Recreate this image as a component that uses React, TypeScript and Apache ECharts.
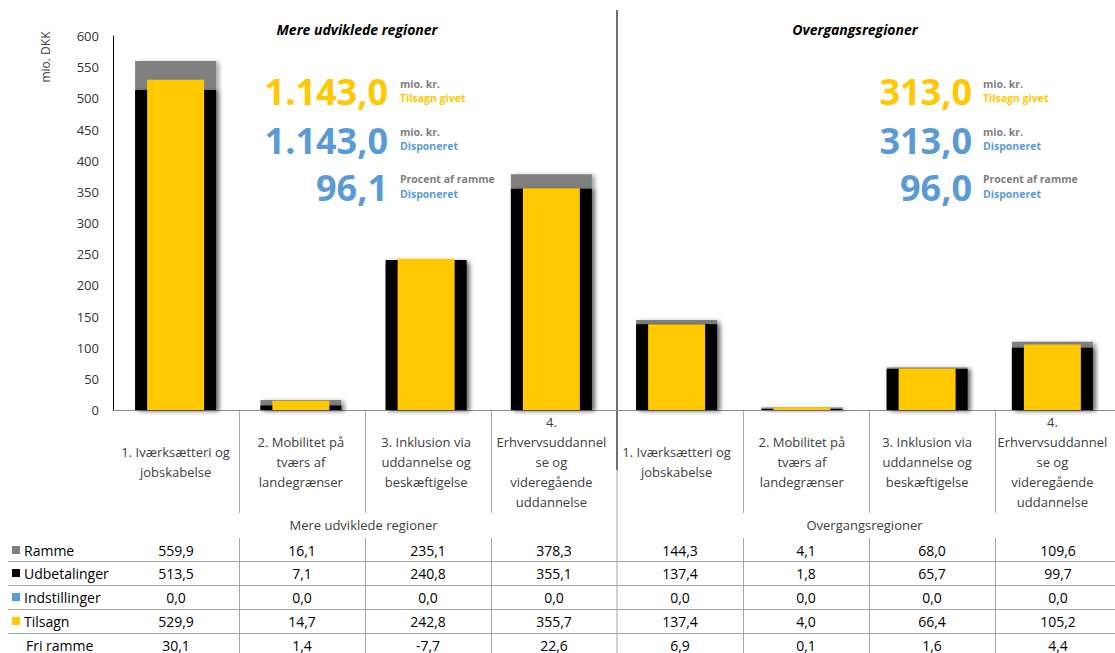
import React, { useEffect, useRef } from "react";
import * as echarts from "echarts";

const categories = [
  "1. Iværksætteri og\njobskabelse",
  "2. Mobilitet på\ntværs af\nlandegrænser",
  "3. Inklusion via\nuddannelse og\nbeskæftigelse",
  "4.\nErhvervsuddannel\nse og\nvideregående\nuddannelse",
  "1. Iværksætteri og\njobskabelse",
  "2. Mobilitet på\ntværs af\nlandegrænser",
  "3. Inklusion via\nuddannelse og\nbeskæftigelse",
  "4.\nErhvervsuddannel\nse og\nvideregående\nuddannelse",
];
const groups = ["Mere udviklede regioner", "Overgangsregioner"];
const ramme = [559.9, 16.1, 235.1, 378.3, 144.3, 4.1, 68.0, 109.6];
const udbetalinger = [513.5, 7.1, 240.8, 355.1, 137.4, 1.8, 65.7, 99.7];
const indstillinger = [0.0, 0.0, 0.0, 0.0, 0.0, 0.0, 0.0, 0.0];
const tilsagn = [529.9, 14.7, 242.8, 355.7, 137.4, 4.0, 66.4, 105.2];
const friRamme = [30.1, 1.4, -7.7, 22.6, 6.9, 0.1, 1.6, 4.4];
const yMin = 0;
const yMax = 600;
const yInterval = 50;
const kpiTilsagn = ["1.143,0", "313,0"];
const kpiDisponeret = ["1.143,0", "313,0"];
const kpiProcent = ["96,1", "96,0"];

const FONT = "'Open Sans', 'Noto Sans', sans-serif";
const GRAY = "#808080";
const BLACK = "#000000";
const BLUE = "#5B9BD5";
const YELLOW = "#FFC800";
const TEXT = "#404040";
const LINE = "#a6a6a6";

const GRID_LEFT = 113;
const GRID_TOP = 36;
const GRID_W = 1008;
const GRID_H = 374;
const CAT_W = GRID_W / categories.length;

const fmt = (v: number) => v.toFixed(1).replace(".", ",");

export default function App() {
  const ref = useRef<HTMLDivElement>(null);
  useEffect(() => {
    document.body.style.margin = "0";
    const chart = echarts.init(ref.current!, null, { renderer: "svg" });

    const rows = [
      { name: "Ramme", color: GRAY, values: ramme },
      { name: "Udbetalinger", color: BLACK, values: udbetalinger },
      { name: "Indstillinger", color: BLUE, values: indstillinger },
      { name: "Tilsagn", color: YELLOW, values: tilsagn },
      { name: "Fri ramme", color: null as string | null, values: friRamme },
    ];
    const rowY = [550, 573, 597, 621, 645];
    const hLines = [561, 585, 609, 633];
    const axisBottom = GRID_TOP + GRID_H;
    const sepX = GRID_LEFT + CAT_W * 4;

    const graphic: any[] = [];
    // y axis name
    graphic.push({
      type: "text",
      x: 45,
      y: 57,
      rotation: Math.PI / 2,
      style: { text: "mio. DKK", font: `12px ${FONT}`, fill: TEXT, align: "center", verticalAlign: "middle" },
    });
    // titles
    const titleX = [357, 855];
    groups.forEach((g, i) => {
      graphic.push({
        type: "text",
        x: titleX[i],
        y: 29,
        style: { text: g, font: `italic bold 14px ${FONT}`, fill: "#000", align: "center", verticalAlign: "middle" },
      });
    });
    // KPIs
    const numRight = [388, 972];
    const lblLeft = [400, 983];
    const kpiRows = [
      { vals: kpiTilsagn, color: YELLOW, y: 91, l1: "mio. kr.", l2: "Tilsagn givet", c2: YELLOW, ly: [84, 98] },
      { vals: kpiDisponeret, color: BLUE, y: 140, l1: "mio. kr.", l2: "Disponeret", c2: BLUE, ly: [132, 146] },
      { vals: kpiProcent, color: BLUE, y: 187, l1: "Procent af ramme", l2: "Disponeret", c2: BLUE, ly: [179, 194] },
    ];
    for (let r = 0; r < 2; r++) {
      kpiRows.forEach((k) => {
        graphic.push({
          type: "text",
          x: numRight[r],
          y: k.y,
          style: { text: k.vals[r], font: `bold 36px ${FONT}`, fill: k.color, align: "right", verticalAlign: "middle" },
        });
        graphic.push({
          type: "text",
          x: lblLeft[r],
          y: k.ly[0],
          style: { text: k.l1, font: `bold 10.5px ${FONT}`, fill: "#7f7f7f", align: "left", verticalAlign: "middle" },
        });
        graphic.push({
          type: "text",
          x: lblLeft[r],
          y: k.ly[1],
          style: { text: k.l2, font: `bold 10.5px ${FONT}`, fill: k.c2, align: "left", verticalAlign: "middle" },
        });
      });
    }
    // region separator
    graphic.push({
      type: "line",
      shape: { x1: sepX, y1: 10, x2: sepX, y2: 470 },
      style: { stroke: "#404040", lineWidth: 1.5 },
    });
    graphic.push({
      type: "line",
      shape: { x1: sepX, y1: 470, x2: sepX, y2: 653 },
      style: { stroke: LINE, lineWidth: 1 },
    });
    // category boundary lines and table vertical lines
    for (let i = 1; i < categories.length; i++) {
      if (i === 4) continue;
      const x = Math.round(GRID_LEFT + CAT_W * i) + 0.5;
      graphic.push({ type: "line", shape: { x1: x, y1: axisBottom, x2: x, y2: 513 }, style: { stroke: LINE, lineWidth: 1 } });
      graphic.push({ type: "line", shape: { x1: x, y1: 538, x2: x, y2: 653 }, style: { stroke: LINE, lineWidth: 1 } });
    }
    // table horizontal lines
    hLines.forEach((y) => {
      graphic.push({ type: "line", shape: { x1: 8, y1: y + 0.5, x2: 1115, y2: y + 0.5 }, style: { stroke: LINE, lineWidth: 1 } });
    });
    // table rows
    rows.forEach((row, ri) => {
      const y = rowY[ri];
      if (row.color) {
        graphic.push({ type: "rect", shape: { x: 12, y: y - 4, width: 8, height: 8 }, style: { fill: row.color } });
      }
      graphic.push({
        type: "text",
        x: row.color ? 24 : 26,
        y,
        style: { text: row.name, font: `14px ${FONT}`, fill: "#000", align: "left", verticalAlign: "middle" },
      });
      row.values.forEach((v, ci) => {
        graphic.push({
          type: "text",
          x: GRID_LEFT + CAT_W * (ci + 0.5),
          y,
          style: { text: fmt(v), font: `14px ${FONT}`, fill: "#000", align: "center", verticalAlign: "middle" },
        });
      });
    });

    const shadow = { shadowBlur: 4, shadowColor: "rgba(0,0,0,0.35)", shadowOffsetX: 3, shadowOffsetY: 1 };

    chart.setOption({
      animation: false,
      grid: { left: GRID_LEFT, top: GRID_TOP, width: GRID_W, height: GRID_H, containLabel: false },
      xAxis: [
        {
          type: "category",
          data: categories,
          position: "bottom",
          axisLine: { lineStyle: { color: "#8c8c8c", width: 1 } },
          axisTick: { show: false },
          axisLabel: {
            interval: 0,
            margin: 52,
            verticalAlign: "middle",
            lineHeight: 20,
            fontSize: 13,
            fontFamily: FONT,
            color: TEXT,
          },
        },
        { type: "category", data: categories, show: false },
        {
          type: "category",
          data: groups,
          position: "bottom",
          axisLine: { show: false },
          axisTick: { show: false },
          axisLabel: { interval: 0, margin: 115, verticalAlign: "middle", fontSize: 13, fontFamily: FONT, color: TEXT },
        },
      ],
      yAxis: {
        type: "value",
        min: yMin,
        max: yMax,
        interval: yInterval,
        axisLine: { show: true, lineStyle: { color: "#000", width: 1 } },
        axisTick: { show: false },
        splitLine: { show: false },
        axisLabel: { fontSize: 13, fontFamily: FONT, color: "#333", margin: 14 },
      },
      graphic,
      series: [
        { name: "Ramme", type: "bar", xAxisIndex: 0, data: ramme, barWidth: 81, barGap: "-100%", itemStyle: { color: GRAY, ...shadow } },
        { name: "Udbetalinger", type: "bar", xAxisIndex: 0, data: udbetalinger, barWidth: 81, barGap: "-100%", itemStyle: { color: BLACK, ...shadow } },
        { name: "Indstillinger", type: "bar", xAxisIndex: 0, data: indstillinger, barWidth: 81, barGap: "-100%", itemStyle: { color: BLUE } },
        { name: "Tilsagn", type: "bar", xAxisIndex: 1, data: tilsagn, barWidth: 57, itemStyle: { color: YELLOW } },
      ],
    });
    return () => chart.dispose();
  }, []);
  return <div ref={ref} style={{ width: 1115, height: 653 }} />;
}
